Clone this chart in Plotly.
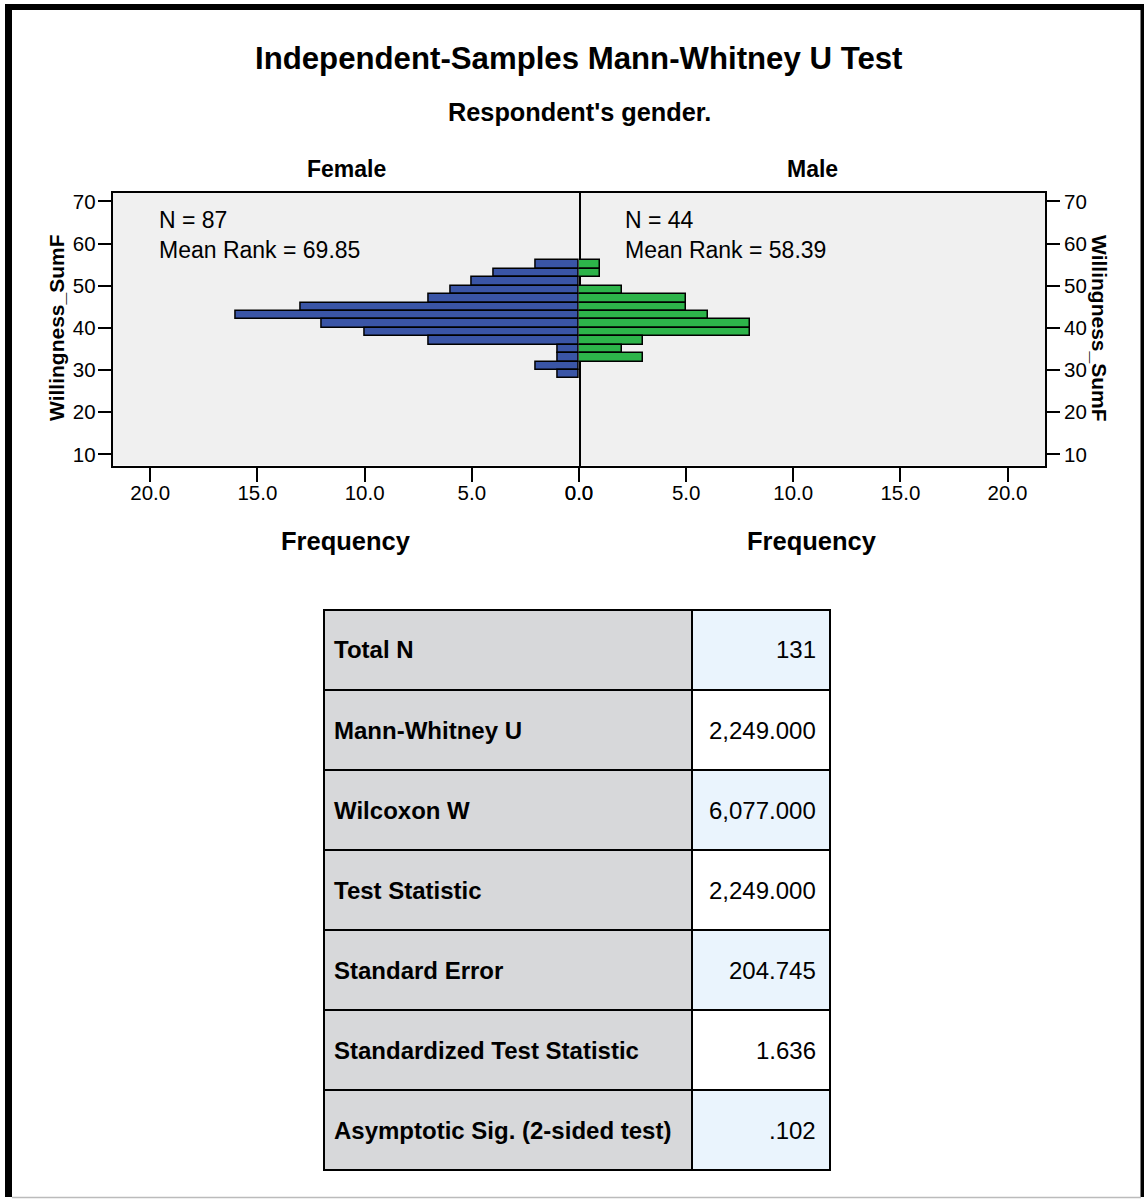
import plotly.graph_objects as go

# ---- data ----
bin_centers = [55, 53, 51, 49, 47, 45, 43, 41, 39, 37, 35, 33, 31, 29]
female_counts = [2, 4, 5, 6, 7, 13, 16, 12, 10, 7, 1, 1, 2, 1]
male_counts = [1, 1, 0, 2, 5, 5, 6, 8, 8, 3, 2, 3, 0, 0]
x_ticks = [0, 5, 10, 15, 20]
y_ticks = [10, 20, 30, 40, 50, 60, 70]
female_stats = ["N = 87", "Mean Rank = 69.85"]
male_stats = ["N = 44", "Mean Rank = 58.39"]
table_labels = ["Total N", "Mann-Whitney U", "Wilcoxon W", "Test Statistic",
                "Standard Error", "Standardized Test Statistic",
                "Asymptotic Sig. (2-sided test)"]
table_values = ["131", "2,249.000", "6,077.000", "2,249.000", "204.745", "1.636", ".102"]

W, H = 1144, 1199
FONT = "Arial, Liberation Sans, sans-serif"


def px(x):
    return x / W


def py(y):
    return 1 - y / H


BLUE = "#3A55A6"
GREEN = "#2DB44A"

fig = go.Figure()
fig.add_trace(go.Bar(y=bin_centers, x=female_counts, orientation="h", width=2,
                     marker=dict(color=BLUE, line=dict(color="black", width=1.5)),
                     xaxis="x", yaxis="y", showlegend=False, hoverinfo="skip"))
fig.add_trace(go.Bar(y=bin_centers, x=male_counts, orientation="h", width=2,
                     marker=dict(color=GREEN, line=dict(color="black", width=1.5)),
                     xaxis="x2", yaxis="y2", showlegend=False, hoverinfo="skip"))

x_left, x_mid, x_right = 112.7, 579, 1045
y_top, y_bot = 193, 465.5
ymin, ymax = 7.35, 72.0

tickfont = dict(family=FONT, size=20.5, color="black")
common_x = dict(tickvals=x_ticks, tickformat=".1f", ticks="outside", ticklen=14,
                tickwidth=1.5, tickcolor="black", showline=True, linecolor="black",
                linewidth=2, mirror=True, showgrid=False, zeroline=False,
                tickfont=tickfont, automargin=False, fixedrange=True,
                ticklabelstandoff=-6)
common_y = dict(range=[ymin, ymax], tickvals=y_ticks, ticks="outside", ticklen=13,
                tickwidth=1.5, tickcolor="black", showline=True, linecolor="black",
                linewidth=2, showgrid=False, zeroline=False,
                tickfont=tickfont, automargin=False, fixedrange=True)

fig.update_layout(
    width=W, height=H, margin=dict(l=0, r=0, t=0, b=0, pad=0, autoexpand=False),
    autosize=False,
    paper_bgcolor="white", plot_bgcolor="#F0F0F0",
    bargap=0,
    xaxis=dict(domain=[px(x_left), px(x_mid)], range=[21.75, 0], anchor="y", **common_x),
    xaxis2=dict(domain=[px(x_mid), px(x_right)], range=[0, 21.75], anchor="y2", **common_x),
    yaxis=dict(domain=[py(y_bot), py(y_top)], anchor="x", side="left", mirror=True,
               ticklabelstandoff=-2, **common_y),
    yaxis2=dict(domain=[py(y_bot), py(y_top)], anchor="x2", side="right", mirror=False, **common_y),
)

ann = []


def text(x, y, s, size, bold=False, xanchor="center", yanchor="middle", angle=0, align="center"):
    ann.append(dict(x=px(x), y=py(y), xref="paper", yref="paper", showarrow=False,
                    text=(f"<b>{s}</b>" if bold else s), xanchor=xanchor, yanchor=yanchor,
                    textangle=angle, align=align,
                    font=dict(family=FONT, size=size, color="black")))


text(578, 59, "Independent-Samples Mann-Whitney U Test", 31.2, bold=True)
text(579, 112, "Respondent's gender.", 25.3, bold=True)
text(346, 169, "Female", 23, bold=True)
text(812, 169, "Male", 23, bold=True)
text(346, 541, "Frequency", 25.5, bold=True)
text(812, 541, "Frequency", 25.5, bold=True)
text(57, 328, "Willingness_SumF", 21, bold=True, angle=-90)
text(1099, 328, "Willingness_SumF", 21, bold=True, angle=90)
text(157, 235, "<br>".join(female_stats), 23, xanchor="left", align="left")
text(623, 235, "<br>".join(male_stats), 23, xanchor="left", align="left")

# ---- table ----
LBL = "#D7D8DA"
BLU = "#EAF4FD"
t_left, t_split, t_right = 324, 692, 830
t_top, row_h = 610, 80
n_rows = len(table_labels)
val_fill = [BLU if i % 2 == 0 else "white" for i in range(n_rows)]

fig.add_trace(go.Table(
    domain=dict(x=[px(t_left), px(t_right)], y=[py(t_top + row_h * n_rows + 2), py(t_top)]),
    columnwidth=[t_split - t_left, t_right - t_split],
    header=dict(values=["", ""], height=row_h,
                fill=dict(color=[LBL, val_fill[0]]),
                line=dict(color="black", width=2)),
    cells=dict(values=[[""] * (n_rows - 1), [""] * (n_rows - 1)],
               height=row_h,
               fill=dict(color=[[LBL] * (n_rows - 1), val_fill[1:]]),
               line=dict(color="black", width=2)),
))

for i, (lab, val) in enumerate(zip(table_labels, table_values)):
    yc = t_top + row_h * (i + 0.5)
    text(t_left + 8, yc, lab, 24, bold=True, xanchor="left")
    text(t_right - 12, yc, val, 24, xanchor="right")

fig.update_layout(annotations=ann)

# ---- outer frame ----
shapes = [
    dict(type="rect", xref="paper", yref="paper", x0=px(5), x1=px(12), y0=py(1197), y1=py(4),
         fillcolor="black", line=dict(width=0)),
    dict(type="rect", xref="paper", yref="paper", x0=px(5), x1=px(1144), y0=py(10), y1=py(4),
         fillcolor="black", line=dict(width=0)),
    dict(type="rect", xref="paper", yref="paper", x0=px(1140.5), x1=px(1144), y0=py(1197), y1=py(4),
         fillcolor="black", line=dict(width=0)),
    dict(type="line", xref="paper", yref="paper", x0=px(12), x1=px(1141), y0=py(1197.5), y1=py(1197.5),
         line=dict(color="#BBBBBB", width=1.5)),
]
fig.update_layout(shapes=shapes)

fig.write_html("out.html",
               config={"displayModeBar": False, "responsive": False},
               post_script="document.body.style.margin='0px';"
                           "document.body.style.overflow='hidden';"
                           "document.documentElement.style.overflow='hidden';")
